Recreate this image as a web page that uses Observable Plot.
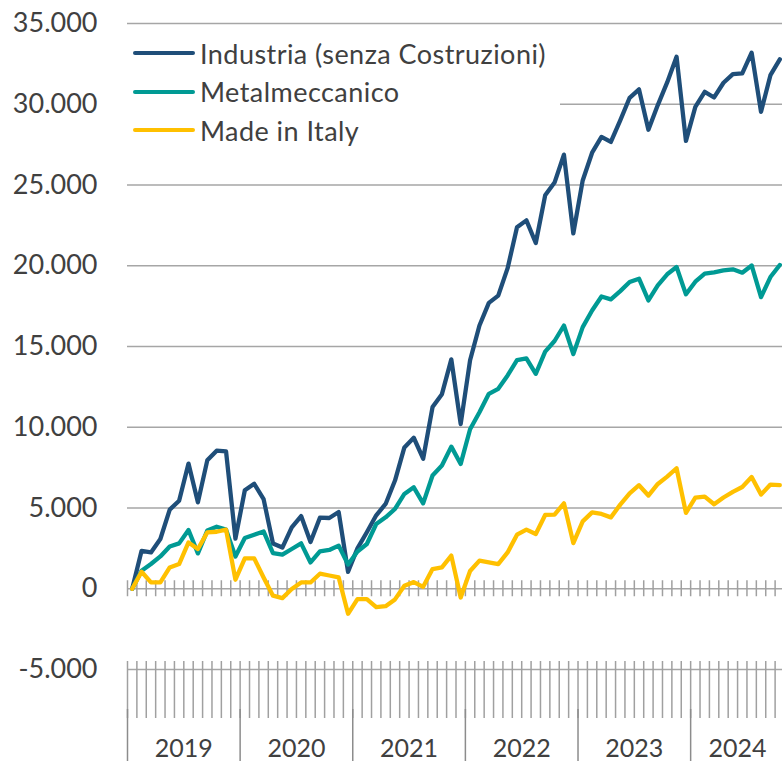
<!DOCTYPE html>
<html><head><meta charset="utf-8">
<script src="https://cdn.jsdelivr.net/npm/d3@7"></script>
<script src="https://cdn.jsdelivr.net/npm/@observablehq/plot@0.6"></script>
<style>
html,body{margin:0;padding:0;background:#fff;overflow:hidden;}
#wrap{position:relative;width:782px;height:761px;overflow:hidden;font-family:Lato, "Open Sans", sans-serif;}
#legend{position:absolute;left:120px;top:34px;width:440px;height:118px;background:#fff;}
.row{position:absolute;left:13px;display:flex;align-items:center;font-size:27px;letter-spacing:0.45px;color:#404040;height:32px;white-space:nowrap;}
.sw{width:62px;height:4px;border-radius:2px;margin-right:5px;flex:none;}
</style></head><body>
<div id="wrap"><div id="chart"></div><div id="legend"></div></div>
<script>
// Monthly data, Jan 2019 – Oct 2024
const seriesNames = ["Industria (senza Costruzioni)", "Metalmeccanico", "Made in Italy"];
const seriesColors = ["#1F4E79", "#009A94", "#FFC000"];
const years = ["2019", "2020", "2021", "2022", "2023", "2024"];
const monthsInYear = [12, 12, 12, 12, 12, 10];
const yTicks = [-5000, 0, 5000, 10000, 15000, 20000, 25000, 30000, 35000];

const industria = [
  0, 2350, 2250, 3080, 4900, 5450, 7750, 5350, 7950, 8550, 8500, 3100,
  6100, 6500, 5550, 2800, 2550, 3800, 4500, 2900, 4400, 4380, 4750, 1050,
  2500, 3500, 4550, 5250, 6700, 8750, 9350, 8050, 11250, 12050, 14200, 10200,
  14150, 16300, 17700, 18150, 19850, 22380, 22810, 21410, 24360, 25150, 26880, 22000,
  25280, 27000, 27980, 27670, 29000, 30400, 30920, 28420, 29950, 31350, 32940, 27730,
  29840, 30770, 30420, 31330, 31870, 31910, 33190, 29530, 31800, 32780
];
const metalmeccanico = [
  0, 1120, 1530, 2000, 2620, 2810, 3640, 2190, 3600, 3840, 3660, 2000,
  3140, 3350, 3550, 2210, 2110, 2460, 2810, 1630, 2310, 2400, 2670, 1500,
  2300, 2770, 4010, 4420, 4940, 5870, 6280, 5290, 7010, 7630, 8800, 7730,
  9880, 10930, 12070, 12380, 13210, 14160, 14260, 13310, 14680, 15340, 16300, 14530,
  16200, 17230, 18100, 17920, 18430, 18990, 19200, 17850, 18780, 19470, 19920, 18230,
  19010, 19510, 19590, 19710, 19780, 19570, 20020, 18060, 19300, 20050
];
const madeInItaly = [
  0, 1050, 390, 390, 1320, 1530, 2870, 2460, 3490, 3530, 3660, 560,
  1880, 1880, 700, -430, -580, -20, 390, 390, 930, 820, 700, -1550,
  -640, -640, -1140, -1080, -660, 190, 410, 120, 1220, 1320, 2050, -540,
  1100, 1740, 1640, 1530, 2250, 3350, 3660, 3390, 4570, 4590, 5290, 2830,
  4170, 4730, 4630, 4420, 5210, 5910, 6410, 5770, 6490, 6940, 7460, 4700,
  5640, 5700, 5230, 5650, 6000, 6300, 6920, 5830, 6450, 6420
];

const allSeries = [industria, metalmeccanico, madeInItaly];
const data = [];
allSeries.forEach((vals, s) => vals.forEach((v, i) => data.push({series: seriesNames[s], t: i + 0.5, v})));

const nMonths = industria.length;
const monthBounds = d3.range(nMonths);
const yearStarts = [];
const yearMids = [];
let acc = 0;
monthsInYear.forEach((n, k) => { yearStarts.push(acc); yearMids.push({label: years[k], x: acc + n / 2}); acc += n; });

const itLocale = d3.formatLocale({decimal: ",", thousands: ".", grouping: [3], currency: ["", " €"], minus: "-"});
const fmt = itLocale.format(",");

const gridColor = "#A6A6A6";
const tickColor = "#A0A0A0";
const textColor = "#404040";

const chart = Plot.plot({
  width: 782,
  height: 761,
  marginLeft: 127,
  marginRight: -2,
  marginTop: 23,
  marginBottom: 92,
  style: {fontFamily: "Lato, 'Open Sans', sans-serif", color: textColor, background: "#fff"},
  x: {type: "linear", domain: [0, nMonths], axis: null},
  y: {domain: [-5000, 35000], axis: null},
  color: {domain: seriesNames, range: seriesColors},
  marks: [
    Plot.ruleY(yTicks.filter(d => d > 0), {stroke: gridColor, strokeWidth: 1.3}),
    Plot.ruleY([0], {stroke: gridColor, strokeWidth: 1.5}),
    Plot.ruleX(monthBounds, {x: d => d, y1: 0, y2: 0, insetTop: -8, insetBottom: -8, stroke: tickColor, strokeWidth: 1.5}),
    Plot.ruleY([-5000], {stroke: gridColor, strokeWidth: 1.5}),
    Plot.ruleX(monthBounds, {x: d => d, y1: -5000, y2: -5000, insetTop: -8, insetBottom: -49, stroke: tickColor, strokeWidth: 1.5}),
    Plot.ruleX(yearStarts, {x: d => d, y1: -5000, y2: -5000, insetTop: 40, insetBottom: -95, stroke: "#8C8C8C", strokeWidth: 1.5}),
    Plot.line(data, {x: "t", y: "v", z: "series", stroke: "series", strokeWidth: 4.3, strokeLinejoin: "round", strokeLinecap: "round"}),
    Plot.axisY(yTicks, {tickSize: 0, tickPadding: 30, fontSize: 27, tickFormat: fmt, fill: textColor, label: null}),
    Plot.text(yearMids, {x: "x", y: -5000, text: "label", dy: 79, fontSize: 25, fill: textColor})
  ]
});
document.getElementById("chart").appendChild(chart);

const legend = document.getElementById("legend");
seriesNames.forEach((name, i) => {
  const row = document.createElement("div");
  row.className = "row";
  row.style.top = (3 + i * 38.5) + "px";
  const sw = document.createElement("div");
  sw.className = "sw";
  sw.style.background = seriesColors[i];
  const lab = document.createElement("span");
  lab.textContent = name;
  row.appendChild(sw);
  row.appendChild(lab);
  legend.appendChild(row);
});
</script>
</body></html>
